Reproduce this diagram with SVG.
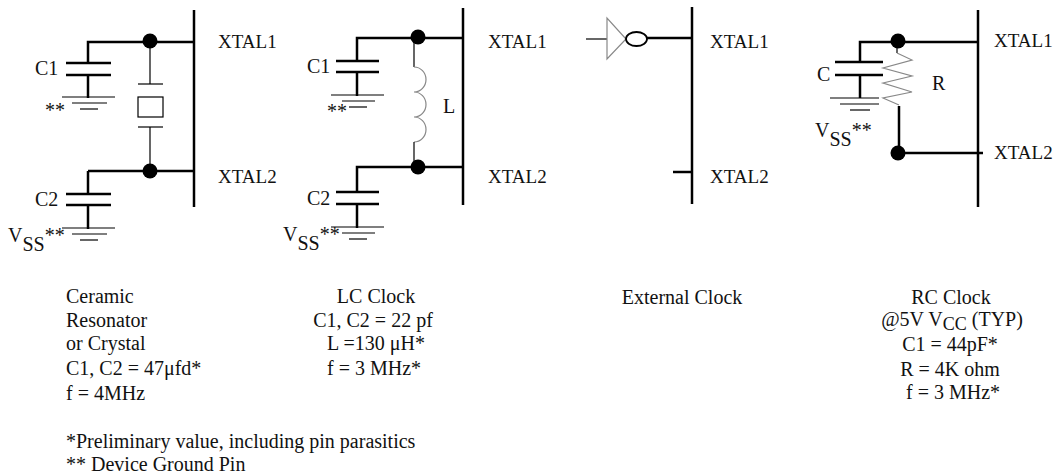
<svg xmlns="http://www.w3.org/2000/svg" width="1055" height="474" viewBox="0 0 1055 474">
<style>
text{font-family:"Liberation Serif","Times New Roman",serif;font-size:20px;fill:#111}
.xt{font-size:19px}
.sub{font-size:18px}
.w{stroke:#000;stroke-width:2.5;fill:none}
.t{stroke:#000;stroke-width:1.2;fill:none}
.g{stroke:#888;stroke-width:1.2;fill:none}
.dot{fill:#000}
</style>
<rect width="1055" height="474" fill="#fff"/>

<g id="ceramic">
  <g id="c1-wires">
    <line class="w" x1="194" y1="10" x2="194" y2="207"/>
    <polyline class="w" points="88,63 88,42 194,42"/>
    <polyline class="w" points="88,171 194,171"/>
    <line class="w" x1="88" y1="171" x2="88" y2="193"/>
    <line class="w" x1="66" y1="63" x2="111" y2="63"/>
    <line class="w" x1="66" y1="75" x2="111" y2="75"/>
    <line class="w" x1="88" y1="75" x2="88" y2="98"/>
    <line class="t" x1="62" y1="97" x2="115" y2="97"/>
    <line class="t" x1="72" y1="103" x2="107" y2="103"/>
    <line class="t" x1="80" y1="109" x2="98" y2="109"/>
    <line class="w" x1="66" y1="194" x2="111" y2="194"/>
    <line class="w" x1="66" y1="205" x2="111" y2="205"/>
    <line class="w" x1="88" y1="205" x2="88" y2="229"/>
    <line class="t" x1="62" y1="228" x2="115" y2="228"/>
    <line class="t" x1="72" y1="234" x2="107" y2="234"/>
    <line class="t" x1="80" y1="240" x2="98" y2="240"/>
    <line class="t" x1="150" y1="42" x2="150" y2="84"/>
    <line class="t" x1="138" y1="84" x2="163" y2="84"/>
    <rect class="t" x="138" y="97" width="25" height="20"/>
    <line class="t" x1="138" y1="127" x2="163" y2="127"/>
    <line class="t" x1="150" y1="127" x2="150" y2="171"/>
    <circle class="dot" cx="150" cy="41" r="7.5"/>
    <circle class="dot" cx="150" cy="171" r="7.5"/>
  </g>
  <text x="35" y="75">C1</text>
  <text x="45" y="117">**</text>
  <text x="35" y="206">C2</text>
  <text x="8" y="242">V<tspan dy="9">SS</tspan><tspan dy="-9">**</tspan></text>
  <text class="xt" x="218" y="48">XTAL1</text>
  <text class="xt" x="218" y="183">XTAL2</text>
</g>

<g id="lc">
  <line class="w" x1="463" y1="8" x2="463" y2="205"/>
  <polyline class="w" points="357,61 357,38 463,38"/>
  <polyline class="w" points="357,192 357,167 463,167"/>
  <line class="w" x1="336" y1="61" x2="379" y2="61"/>
  <line class="w" x1="336" y1="72" x2="379" y2="72"/>
  <line class="w" x1="357" y1="72" x2="357" y2="96"/>
  <line class="t" x1="331" y1="95" x2="384" y2="95"/>
  <line class="t" x1="342" y1="101" x2="375" y2="101"/>
  <line class="t" x1="349" y1="107" x2="367" y2="107"/>
  <line class="w" x1="336" y1="192" x2="379" y2="192"/>
  <line class="w" x1="336" y1="204" x2="379" y2="204"/>
  <line class="w" x1="357" y1="204" x2="357" y2="228"/>
  <line class="t" x1="331" y1="227" x2="384" y2="227"/>
  <line class="t" x1="342" y1="233" x2="375" y2="233"/>
  <line class="t" x1="349" y1="239" x2="367" y2="239"/>
  <line class="t" x1="414" y1="38" x2="414" y2="67"/>
  <path class="g" d="M414,67 a12,12.5 0 0 1 0,25 a12,12.5 0 0 1 0,25 a12,12.5 0 0 1 0,25"/>
  <line class="t" x1="414" y1="142" x2="414" y2="167"/>
  <circle class="dot" cx="418" cy="37" r="7.5"/>
  <circle class="dot" cx="418" cy="167" r="7.5"/>
  <text x="307" y="73">C1</text>
  <text x="327" y="118">**</text>
  <text x="443" y="113">L</text>
  <text x="307" y="205">C2</text>
  <text x="283" y="241">V<tspan dy="9">SS</tspan><tspan dy="-9">**</tspan></text>
  <text class="xt" x="488" y="48">XTAL1</text>
  <text class="xt" x="488" y="183">XTAL2</text>
</g>

<g id="external">
  <line class="w" x1="692" y1="7" x2="692" y2="204"/>
  <line class="t" x1="586" y1="39" x2="607" y2="39"/>
  <polygon class="g" points="607,18 607,59 626,39"/>
  <ellipse cx="636.5" cy="39" rx="10.5" ry="7" fill="none" stroke="#000" stroke-width="1.8"/>
  <line class="w" x1="647" y1="38" x2="692" y2="38"/>
  <line class="w" x1="673" y1="172" x2="692" y2="172"/>
  <text class="xt" x="710" y="48">XTAL1</text>
  <text class="xt" x="710" y="183">XTAL2</text>
</g>

<g id="rc">
  <line class="w" x1="978" y1="10" x2="978" y2="207"/>
  <polyline class="w" points="860,62 860,42 978,42"/>
  <line class="w" x1="898" y1="153" x2="983" y2="153"/>
  <line class="w" x1="835" y1="62" x2="883" y2="62"/>
  <line class="w" x1="835" y1="75" x2="883" y2="75"/>
  <line class="w" x1="860" y1="75" x2="860" y2="98"/>
  <line class="t" x1="830" y1="98" x2="879" y2="98"/>
  <line class="t" x1="840" y1="104" x2="879" y2="104"/>
  <line class="t" x1="850" y1="110" x2="870" y2="110"/>
  <line class="t" x1="897" y1="42" x2="897" y2="53"/>
  <polyline class="g" points="897,53 912,60 883,68 912,76 883,83 912,92 883,98 899,105"/>
  <line class="w" x1="899" y1="106" x2="899" y2="153"/>
  <circle class="dot" cx="898" cy="41" r="7.5"/>
  <circle class="dot" cx="898" cy="153" r="7.5"/>
  <text x="817" y="81">C</text>
  <text x="932" y="90">R</text>
  <text x="815" y="137">V<tspan dy="9">SS</tspan><tspan dy="-9">**</tspan></text>
  <text class="xt" x="994" y="47">XTAL1</text>
  <text class="xt" x="994" y="159">XTAL2</text>
</g>

<g id="captions">
  <text x="66" y="303">Ceramic</text>
  <text x="66" y="327">Resonator</text>
  <text x="66" y="350">or Crystal</text>
  <text x="66" y="375">C1, C2 = 47μfd*</text>
  <text x="66" y="400">f = 4MHz</text>
  <text x="66" y="448">*Preliminary value, including pin parasitics</text>
  <text x="66" y="471">** Device Ground Pin</text>
  <g text-anchor="middle">
    <text x="376" y="303">LC Clock</text>
    <text x="373" y="327">C1, C2 = 22 pf</text>
    <text x="376" y="350">L =130 μH*</text>
    <text x="374" y="375">f = 3 MHz*</text>
    <text x="682" y="304">External Clock</text>
    <text x="951" y="304">RC Clock</text>
    <text x="952" y="326">@5V V<tspan class="sub" dy="4">CC</tspan><tspan dy="-4"> (TYP)</tspan></text>
    <text x="950" y="351">C1 = 44pF*</text>
    <text x="950" y="376">R = 4K ohm</text>
    <text x="953" y="399">f = 3 MHz*</text>
  </g>
</g>
</svg>
